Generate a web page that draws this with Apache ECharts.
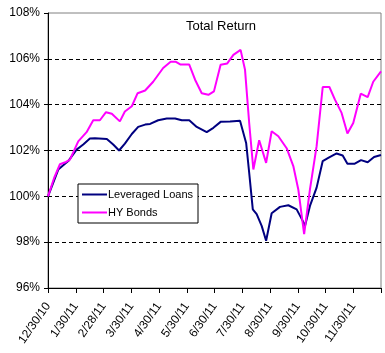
<!DOCTYPE html>
<html>
<head>
<meta charset="utf-8">
<script src="https://cdn.jsdelivr.net/npm/echarts@6/dist/echarts.min.js"></script>
<style>
  html, body { margin: 0; padding: 0; background: #fff; }
  #chart { width: 385px; height: 353px; }
</style>
</head>
<body>
<div id="chart"></div>
<script>
// month tick labels (x axis is in months since 12/30/10)
var monthLabels = ['12/30/10', '1/30/11', '2/28/11', '3/30/11', '4/30/11', '5/30/11',
    '6/30/11', '7/30/11', '8/30/11', '9/30/11', '10/30/11', '11/30/11'];

// Leveraged Loans
var loansX = [0, 0.37, 0.73, 1.03, 1.27, 1.51, 1.69, 2.12, 2.35, 2.56, 2.77, 3.02, 3.25, 3.5,
    3.68, 3.97, 4.28, 4.58, 4.82, 5.09, 5.36, 5.72, 5.96, 6.22, 6.56, 6.92, 7.14, 7.25, 7.38,
    7.52, 7.7, 7.86, 8.06, 8.36, 8.66, 8.96, 9.18, 9.26, 9.44, 9.68, 9.9, 10.1, 10.4, 10.62,
    10.79, 11.04, 11.28, 11.52, 11.75, 12];
var loansY = [100, 101.17, 101.54, 102.04, 102.26, 102.52, 102.53, 102.5, 102.26, 102.0, 102.3,
    102.72, 103.03, 103.13, 103.16, 103.32, 103.4, 103.4, 103.32, 103.32, 103.03, 102.8, 102.99,
    103.25, 103.27, 103.3, 102.33, 101.03, 99.43, 99.22, 98.71, 98.06, 99.26, 99.54, 99.61, 99.43,
    98.93, 98.71, 99.58, 100.38, 101.54, 101.68, 101.87, 101.78, 101.42, 101.42, 101.58, 101.49,
    101.72, 101.8];

// HY Bonds
var hyX = [0, 0.22, 0.43, 0.65, 0.79, 1.09, 1.39, 1.63, 1.87, 2.09, 2.3, 2.59, 2.77, 3.02, 3.23,
    3.5, 3.79, 4.15, 4.42, 4.61, 4.78, 5.09, 5.3, 5.54, 5.78, 5.98, 6.22, 6.46, 6.68, 6.94, 7.1,
    7.25, 7.4, 7.61, 7.86, 8.06, 8.3, 8.6, 8.84, 9.02, 9.23, 9.44, 9.68, 9.9, 10.14, 10.34, 10.58,
    10.79, 11.0, 11.27, 11.52, 11.72, 12];
var hyY = [100, 100.8, 101.4, 101.5, 101.6, 102.4, 102.8, 103.32, 103.32, 103.67, 103.6, 103.27,
    103.7, 103.93, 104.5, 104.62, 105.0, 105.6, 105.87, 105.87, 105.75, 105.75, 105.09, 104.5,
    104.43, 104.58, 105.74, 105.8, 106.17, 106.39, 105.52, 103.2, 101.17, 102.45, 101.46, 102.84,
    102.62, 102.1, 101.32, 100.3, 98.35, 100.3, 102.19, 104.77, 104.77, 104.22, 103.64, 102.74,
    103.2, 104.48, 104.33, 105.0, 105.45];

function pairs(xs, ys) {
    var out = [];
    for (var i = 0; i < xs.length; i++) out.push([xs[i], ys[i]]);
    return out;
}

var font = 'Liberation Sans, Arial, sans-serif';
var chart = echarts.init(document.getElementById('chart'));
chart.setOption({
    animation: false,
    textStyle: { fontFamily: font },
    title: {
        text: 'Total Return',
        left: 186, top: 20, padding: 0,
        textStyle: { fontSize: 13, fontWeight: 'normal', color: '#000', fontFamily: font }
    },
    legend: {
        orient: 'vertical',
        left: 78, top: 184,
        padding: [4, 5, 4, 4],
        itemGap: 5,
        icon: 'rect',
        itemWidth: 25, itemHeight: 2,
        backgroundColor: '#fff',
        borderColor: '#000', borderWidth: 1,
        textStyle: { fontSize: 11, color: '#000', fontFamily: font, padding: [0, 0, 0, -4], lineHeight: 13 },
        data: ['Leveraged Loans', 'HY Bonds']
    },
    grid: {
        left: 48, top: 13, right: 4, bottom: 65,
        show: true, borderColor: '#808080', borderWidth: 1
    },
    xAxis: {
        type: 'value',
        min: 0, max: 12, interval: 1,
        axisLine: { lineStyle: { color: '#000', width: 1 } },
        axisTick: { show: true, length: 5, lineStyle: { color: '#000' } },
        splitLine: { show: false },
        axisLabel: {
            rotate: 55, margin: 16, fontSize: 12, color: '#000', fontFamily: font,
            formatter: function (v) { return monthLabels[v] || ''; }
        }
    },
    yAxis: {
        type: 'value',
        min: 96, max: 108, interval: 2,
        axisLine: { show: true, lineStyle: { color: '#000', width: 1 } },
        axisTick: { show: true, length: 4, lineStyle: { color: '#000' } },
        splitLine: {
            show: true, showMinLine: false, showMaxLine: false,
            lineStyle: { color: '#000', type: [4, 3], width: 1 }
        },
        axisLabel: { fontSize: 12, color: '#000', margin: 8, fontFamily: font, formatter: '{value}%' }
    },
    series: [
        {
            name: 'Leveraged Loans', type: 'line', symbol: 'none',
            color: '#000080',
            lineStyle: { color: '#000080', width: 2 },
            data: pairs(loansX, loansY)
        },
        {
            name: 'HY Bonds', type: 'line', symbol: 'none',
            color: '#ff00ff',
            lineStyle: { color: '#ff00ff', width: 2 },
            data: pairs(hyX, hyY)
        }
    ]
});
</script>
</body>
</html>
